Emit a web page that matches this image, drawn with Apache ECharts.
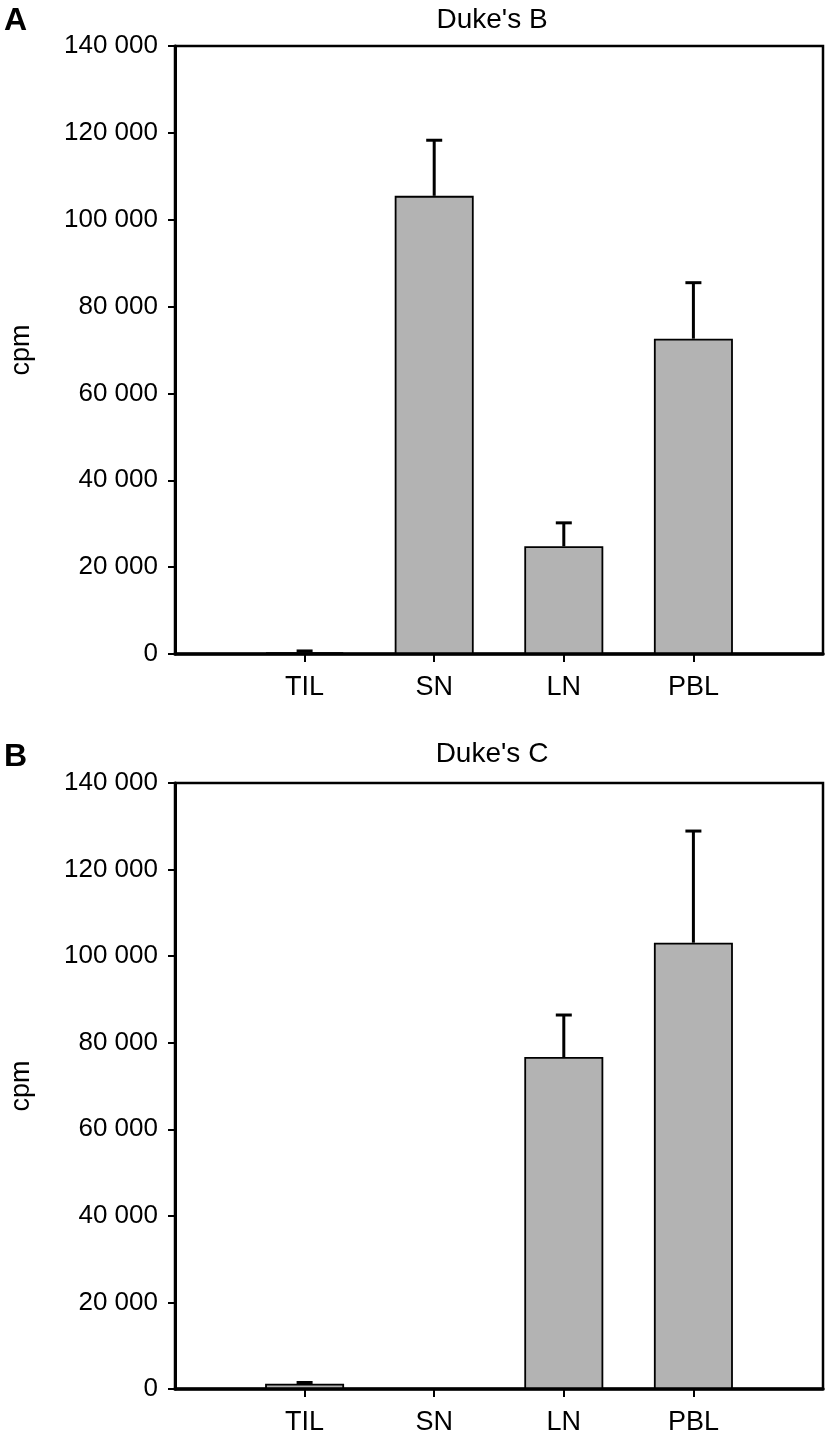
<!DOCTYPE html>
<html>
<head>
<meta charset="utf-8">
<script src="https://cdn.jsdelivr.net/npm/echarts@6/dist/echarts.min.js"></script>
<style>
html,body{margin:0;padding:0;background:#fff;}
#chart{width:826px;height:1440px;}
</style>
</head>
<body>
<div id="chart"></div>
<script>
// ---- data ----
const categories = ['TIL', 'SN', 'LN', 'PBL'];
const dukesBValues = [400, 105500, 24800, 72600];
const dukesBErrors = [300, 12800, 5400, 12900];
const dukesCValues = [1200, 0, 76700, 103100];
const dukesCErrors = [300, 0, 9700, 25800];
const yTicks = [0, 20000, 40000, 60000, 80000, 100000, 120000, 140000];
const panelTitles = ["Duke's B", "Duke's C"];
const panelLetters = ['A', 'B'];
const yAxisName = 'cpm';

// ---- build ----
const FONT = "'Liberation Sans', Arial, sans-serif";
const axisCats = [''].concat(categories, ['']);
function pad(arr) { return [null].concat(arr, [null]); }
function fmt(v) { return String(v).replace(/\B(?=(\d{3})+(?!\d))/g, ' '); }
function errData(vals, errs) {
  const out = [];
  vals.forEach((v, i) => { if (errs[i] > 0) out.push([i + 1, v, errs[i]]); });
  return out;
}

const grids = [
  { left: 171, top: 46, width: 653, height: 608 },
  { left: 171, top: 783, width: 654, height: 606 }
];

const xAxes = [], yAxes = [], series = [];
const panelData = [[dukesBValues, dukesBErrors], [dukesCValues, dukesCErrors]];

grids.forEach((g, k) => {
  xAxes.push({
    type: 'category', gridIndex: k, data: axisCats, boundaryGap: false,
    axisLine: { show: true, lineStyle: { color: '#000', width: 3.5 } },
    axisTick: { show: true, length: 8, inside: false, lineStyle: { color: '#000', width: 2 },
      interval: (i) => i > 0 && i < axisCats.length - 1 },
    axisLabel: { color: '#000', fontFamily: FONT, fontSize: 27, margin: 20,
      interval: 0 },
    splitLine: { show: false }
  });
  yAxes.push({
    type: 'value', gridIndex: k, min: yTicks[0], max: yTicks[yTicks.length - 1],
    interval: yTicks[1] - yTicks[0],
    name: yAxisName, nameLocation: 'middle', nameGap: 140, nameRotate: 90,
    nameTextStyle: { color: '#000', fontFamily: FONT, fontSize: 27 },
    axisLine: { show: true, lineStyle: { color: '#000', width: 3 } },
    axisTick: { show: true, length: 7, lineStyle: { color: '#000', width: 2 } },
    axisLabel: { color: '#000', fontFamily: FONT, fontSize: 26, margin: 17, formatter: fmt },
    splitLine: { show: false }
  });
  const [vals, errs] = panelData[k];
  series.push({
    type: 'bar', xAxisIndex: k, yAxisIndex: k, data: pad(vals), barWidth: 79,
    itemStyle: { color: '#b3b3b3', borderColor: '#000', borderWidth: 1.8 },
    silent: true, z: 2
  });
  series.push({
    type: 'custom', xAxisIndex: k, yAxisIndex: k, data: errData(vals, errs), z: 3,
    encode: { x: 0, y: 1 },
    renderItem: function (params, api) {
      const x = api.value(0), v = api.value(1), e = api.value(2);
      const p0 = api.coord([x, v]);
      const p1 = api.coord([x, v + e]);
      const st = { stroke: '#000', lineWidth: 3 };
      return {
        type: 'group',
        children: [
          { type: 'line', shape: { x1: p0[0], y1: p0[1], x2: p1[0], y2: p1[1] }, style: st },
          { type: 'line', shape: { x1: p1[0] - 8, y1: p1[1], x2: p1[0] + 8, y2: p1[1] }, style: st }
        ]
      };
    }
  });
});

const graphics = [];
const titleY = [20, 754], letterY = [21, 757];
grids.forEach((g, k) => {
  graphics.push({ type: 'text', x: 492, y: titleY[k], silent: true,
    style: { text: panelTitles[k], fill: '#000', font: '28px ' + FONT, textAlign: 'center', textVerticalAlign: 'middle' } });
  graphics.push({ type: 'text', x: 4, y: letterY[k], silent: true,
    style: { text: panelLetters[k], fill: '#000', font: 'bold 32px ' + FONT, textAlign: 'left', textVerticalAlign: 'middle' } });
});

const chart = echarts.init(document.getElementById('chart'), null, { renderer: 'canvas' });
chart.setOption({
  animation: false,
  backgroundColor: '#fff',
  grid: grids.map(g => Object.assign({ show: true, borderColor: '#000', borderWidth: 2.5, backgroundColor: 'transparent' }, g)),
  xAxis: xAxes,
  yAxis: yAxes,
  series: series,
  graphic: graphics
});
</script>
</body>
</html>
